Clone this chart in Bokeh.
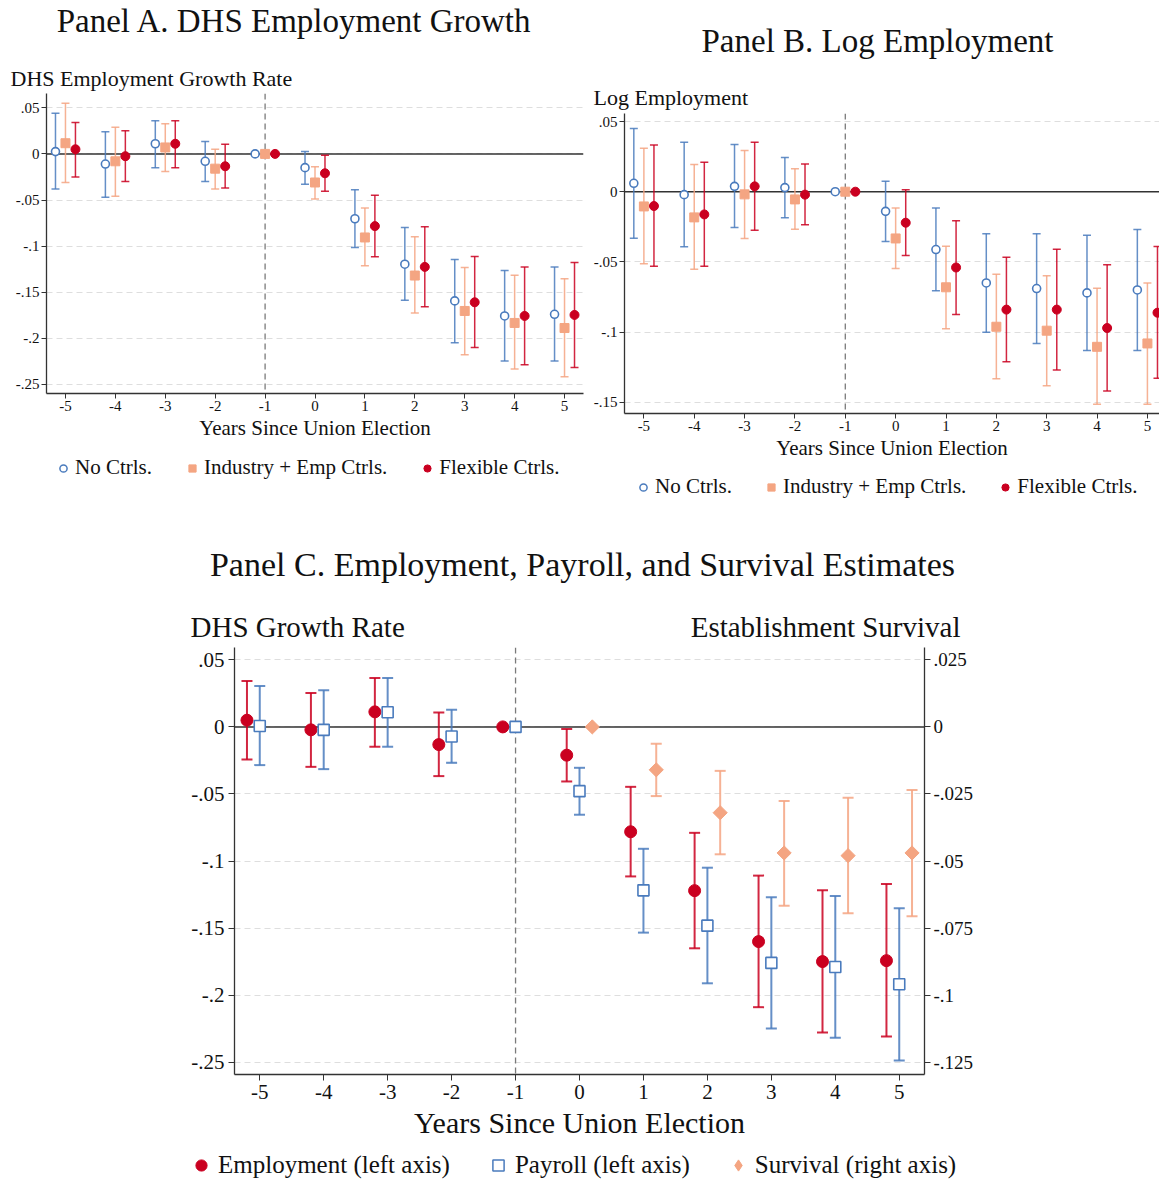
from bokeh.plotting import figure
from bokeh.models import (Range1d, LinearAxis, FixedTicker, Span, Whisker, TeeHead,
                          ColumnDataSource, Legend, LegendItem, Label, Spacer)
from bokeh.layouts import row, column
from bokeh.embed import file_html
from bokeh.resources import INLINE

FONT = "Liberation Serif"
BLUE = "#4a7bbd"
ORANGE = "#f4a582"
RED = "#ca0020"
GRID = "#dedede"
AXIS = "#333333"
TXT = "#111111"
NAN = float("nan")
DIAMOND_ANGLE = 0.7853981634  # square turned 45 degrees

# ---------------- data ----------------
years = [-5, -4, -3, -2, -1, 0, 1, 2, 3, 4, 5]
x_tick_labels = ["-5", "-4", "-3", "-2", "-1", "0", "1", "2", "3", "4", "5"]

# Panel A: DHS employment growth
a_nc = [0.0025, -0.011, 0.011, -0.008, 0.0, -0.0149, -0.0703, -0.1196, -0.1594, -0.1757, -0.1739]
a_nc_lo = [-0.038, -0.047, -0.015, -0.030, None, -0.033, -0.1014, -0.1587, -0.2047, -0.2246, -0.2246]
a_nc_hi = [0.044, 0.024, 0.036, 0.0134, None, 0.0025, -0.0388, -0.0797, -0.1145, -0.1264, -0.1225]
a_ind = [0.0116, -0.008, 0.007, -0.016, 0.0, -0.031, -0.0906, -0.1319, -0.1703, -0.1833, -0.1888]
a_ind_lo = [-0.031, -0.046, -0.019, -0.038, None, -0.049, -0.1214, -0.1725, -0.2178, -0.2333, -0.2417]
a_ind_hi = [0.055, 0.029, 0.0326, 0.005, None, -0.0138, -0.0587, -0.0899, -0.1232, -0.1315, -0.1355]
a_flex = [0.005, -0.0025, 0.011, -0.0134, 0.0, -0.021, -0.0783, -0.1225, -0.1609, -0.1757, -0.1746]
a_flex_lo = [-0.025, -0.030, -0.015, -0.037, None, -0.0406, -0.1116, -0.1656, -0.2098, -0.2286, -0.2315]
a_flex_hi = [0.034, 0.025, 0.036, 0.0105, None, -0.0014, -0.0449, -0.079, -0.1112, -0.1225, -0.1178]
a_yticks = [0.05, 0.0, -0.05, -0.1, -0.15, -0.2, -0.25]
a_ytick_labels = [".05", "0", "-.05", "-.1", "-.15", "-.2", "-.25"]

# Panel B: log employment
b_nc = [0.006, -0.0021, 0.0038, 0.0029, 0.0, -0.014, -0.0412, -0.065, -0.069, -0.0721, -0.070]
b_nc_lo = [-0.0331, -0.0393, -0.0255, -0.0186, None, -0.0355, -0.0705, -0.1002, -0.1081, -0.1131, -0.1131]
b_nc_hi = [0.045, 0.0352, 0.0336, 0.0243, None, 0.0074, -0.0117, -0.030, -0.030, -0.031, -0.0269]
b_ind = [-0.0105, -0.0183, -0.0019, -0.0055, 0.0, -0.0333, -0.0681, -0.0962, -0.099, -0.1105, -0.1081]
b_ind_lo = [-0.0514, -0.0552, -0.0333, -0.0267, None, -0.0548, -0.0976, -0.1333, -0.1383, -0.1514, -0.1514]
b_ind_hi = [0.031, 0.0193, 0.0293, 0.0164, None, -0.0117, -0.0388, -0.0588, -0.0598, -0.0688, -0.065]
b_flex = [-0.0102, -0.0162, 0.0038, -0.0021, 0.0, -0.0221, -0.054, -0.084, -0.084, -0.0971, -0.0862]
b_flex_lo = [-0.0531, -0.0531, -0.0274, -0.0236, None, -0.0455, -0.0874, -0.1212, -0.1271, -0.1419, -0.1329]
b_flex_hi = [0.0333, 0.021, 0.0352, 0.0198, None, 0.0014, -0.0207, -0.0467, -0.041, -0.0521, -0.039]
b_yticks = [0.05, 0.0, -0.05, -0.1, -0.15]
b_ytick_labels = [".05", "0", "-.05", "-.1", "-.15"]

# Panel C: employment, payroll (left axis), survival (right axis)
c_emp = [0.005, -0.0022, 0.0112, -0.0132, 0.0, -0.0211, -0.0782, -0.1221, -0.1601, -0.175, -0.1743]
c_emp_lo = [-0.0243, -0.0298, -0.0149, -0.0367, None, -0.0407, -0.1115, -0.1651, -0.209, -0.2279, -0.2309]
c_emp_hi = [0.0343, 0.0253, 0.0365, 0.0107, None, -0.0015, -0.0447, -0.079, -0.1109, -0.1219, -0.1172]
c_pay = [0.0007, -0.0022, 0.0109, -0.0072, 0.0, -0.0479, -0.1219, -0.1482, -0.176, -0.179, -0.1919]
c_pay_lo = [-0.0285, -0.0315, -0.0149, -0.0268, None, -0.0655, -0.1534, -0.1912, -0.2249, -0.2318, -0.2487]
c_pay_hi = [0.0305, 0.0273, 0.0365, 0.0127, None, -0.0305, -0.0909, -0.105, -0.1271, -0.1261, -0.1353]
surv_years = [0, 1, 2, 3, 4, 5]
c_surv = [0.0, -0.016, -0.032, -0.047, -0.048, -0.047]
c_surv_lo = [None, -0.0258, -0.0475, -0.0667, -0.0695, -0.0706]
c_surv_hi = [None, -0.0063, -0.0164, -0.0276, -0.0264, -0.0235]
c_yticks = [0.05, 0.0, -0.05, -0.1, -0.15, -0.2, -0.25]
c_ytick_labels = [".05", "0", "-.05", "-.1", "-.15", "-.2", "-.25"]
c_ryticks = [0.025, 0.0, -0.025, -0.05, -0.075, -0.1, -0.125]
c_rytick_labels = [".025", "0", "-.025", "-.05", "-.075", "-.1", "-.125"]


def hide_title(p):
    if p.title is not None:
        p.title.visible = False


def base_fig(width, height, xr, yr, borders, tick_size, xtitle_size, yticks, ylabels, stand=2):
    p = figure(width=width, height=height, x_range=Range1d(*xr), y_range=Range1d(*yr),
               output_backend="svg", toolbar_location=None,
               min_border_left=borders[0], min_border_right=borders[1],
               min_border_top=borders[2], min_border_bottom=borders[3])
    hide_title(p)
    p.outline_line_color = None
    p.background_fill_color = "white"
    p.border_fill_color = "white"
    p.xgrid.visible = False
    p.ygrid.ticker = FixedTicker(ticks=yticks)
    p.ygrid.grid_line_color = GRID
    p.ygrid.grid_line_dash = "6 4"
    p.ygrid.grid_line_width = 1.2
    p.xaxis.ticker = FixedTicker(ticks=years)
    p.xaxis.major_label_overrides = dict(zip(years, x_tick_labels))
    p.yaxis.ticker = FixedTicker(ticks=yticks)
    p.yaxis.major_label_overrides = dict(zip(yticks, ylabels))
    for ax in list(p.xaxis) + list(p.yaxis):
        ax.axis_line_color = AXIS
        ax.axis_line_width = 1.3
        ax.major_tick_line_color = AXIS
        ax.major_tick_out = 5
        ax.major_tick_in = 0
        ax.minor_tick_line_color = None
        ax.major_label_text_font = FONT
        ax.major_label_text_font_size = tick_size
        ax.major_label_text_color = TXT
        ax.major_label_standoff = stand
    p.xaxis.axis_label = "Years Since Union Election"
    p.xaxis.axis_label_text_font = FONT
    p.xaxis.axis_label_text_font_size = xtitle_size
    p.xaxis.axis_label_text_font_style = "normal"
    p.xaxis.axis_label_text_color = TXT
    p.xaxis.axis_label_standoff = stand
    p.add_layout(Span(location=0, dimension="width", line_color="#333333",
                      line_width=1.5, level="underlay"))
    p.add_layout(Span(location=-1, dimension="height", line_color="#7a7a7a",
                      line_width=1.3, line_dash="6 4", level="underlay"))
    return p


def add_series(p, xs, pts, lo, hi, color, marker, size, hollow, cap, lw,
               y_range_name="default", angle=0.0):
    src = ColumnDataSource(dict(x=xs, y=pts))
    wx = [x for x, l in zip(xs, lo) if l is not None]
    wl = [l for l in lo if l is not None]
    wh = [h for h, l in zip(hi, lo) if l is not None]
    wsrc = ColumnDataSource(dict(x=wx, lo=wl, hi=wh))
    w = Whisker(base="x", lower="lo", upper="hi", source=wsrc, dimension="height",
                line_color=color, line_width=lw, line_alpha=0.85, y_range_name=y_range_name,
                upper_head=TeeHead(size=cap, line_color=color, line_width=lw, line_alpha=0.85),
                lower_head=TeeHead(size=cap, line_color=color, line_width=lw, line_alpha=0.85))
    p.add_layout(w)
    if hollow:
        r = p.scatter("x", "y", source=src, marker=marker, size=size, fill_color="white",
                      line_color=color, line_width=1.6, y_range_name=y_range_name, angle=angle)
    else:
        r = p.scatter("x", "y", source=src, marker=marker, size=size, fill_color=color,
                      line_color=color, line_width=1, y_range_name=y_range_name, angle=angle)
    return r


def shift(vals, d):
    return [v + d for v in vals]


def strip(width, height):
    s = figure(width=width, height=height, x_range=Range1d(0, width), y_range=Range1d(0, height),
               x_axis_type=None, y_axis_type=None, output_backend="svg", toolbar_location=None,
               min_border=0)
    hide_title(s)
    s.outline_line_color = None
    s.background_fill_color = "white"
    s.border_fill_color = "white"
    return s


def add_text(s, x, y, text, size, align="left"):
    s.add_layout(Label(x=x, y=y, text=text, text_font=FONT, text_font_size=size,
                       text_color=TXT, text_align=align, text_baseline="middle"))


def legend_strip(width, height, entries, size, spacing, gw, gh, loc):
    s = strip(width, height)
    items = []
    for label, marker, color, hollow in entries:
        if hollow:
            r = s.scatter(x=[NAN], y=[NAN], marker=marker, fill_color="white", line_color=color,
                          line_width=1.5)
        else:
            r = s.scatter(x=[NAN], y=[NAN], marker=marker, fill_color=color, line_color=color)
        items.append(LegendItem(label=label, renderers=[r]))
    lg = Legend(items=items, orientation="horizontal", location=loc,
                border_line_color=None, background_fill_alpha=0,
                label_text_font=FONT, label_text_font_size=size, label_text_color=TXT,
                spacing=spacing, glyph_width=gw, glyph_height=gh,
                label_standoff=3, padding=0, margin=0)
    s.add_layout(lg)
    return s


def box(*children):
    # wrap every element in its own column so that frames are not aligned
    return column(*[column(c) for c in children])


# ---------------- Panel A ----------------
a_xr = (-5.38, 5.38)
a_yr = (-0.2598, 0.0655)
pA = base_fig(590, 356, a_xr, a_yr, (46, 7, 0, 56), "15px", "21px", a_yticks, a_ytick_labels)
add_series(pA, shift(years, -0.2), a_nc, a_nc_lo, a_nc_hi, BLUE, "circle", 8, True, 8, 1.5)
add_series(pA, years, a_ind, a_ind_lo, a_ind_hi, ORANGE, "square", 9, False, 8, 1.5)
add_series(pA, shift(years, 0.2), a_flex, a_flex_lo, a_flex_hi, RED, "circle", 9, False, 8, 1.5)
tA = strip(590, 93)
add_text(tA, 294, 73, "Panel A. DHS Employment Growth", "33px", "center")
add_text(tA, 10, 15, "DHS Employment Growth Rate", "22px")
lA = legend_strip(590, 76, [("No Ctrls.", "circle", BLUE, True),
                            ("Industry + Emp Ctrls.", "square", ORANGE, False),
                            ("Flexible Ctrls.", "circle", RED, False)],
                  "21px", 31, 18, 18, (54, 45))

# ---------------- Panel B ----------------
b_xr = (-5.385, 5.24)
b_yr = (-0.158, 0.0557)
pB = base_fig(569, 356, b_xr, b_yr, (33, 0, 0, 56), "15px", "21px", b_yticks, b_ytick_labels)
add_series(pB, shift(years, -0.2), b_nc, b_nc_lo, b_nc_hi, BLUE, "circle", 8, True, 8, 1.5)
add_series(pB, years, b_ind, b_ind_lo, b_ind_hi, ORANGE, "square", 9, False, 8, 1.5)
add_series(pB, shift(years, 0.2), b_flex, b_flex_lo, b_flex_hi, RED, "circle", 9, False, 8, 1.5)
tB = strip(569, 113)
add_text(tB, 287, 73, "Panel B. Log Employment", "33px", "center")
add_text(tB, 3, 16, "Log Employment", "22px")
lB = legend_strip(569, 56, [("No Ctrls.", "circle", BLUE, True),
                            ("Industry + Emp Ctrls.", "square", ORANGE, False),
                            ("Flexible Ctrls.", "circle", RED, False)],
                  "21px", 30, 18, 18, (44, 26))

# ---------------- Panel C ----------------
c_xr = (-5.395, 5.395)
c_yr = (-0.2592, 0.0592)
pC = base_fig(805, 497, c_xr, c_yr, (54, 61, 0, 70), "21px", "30px", c_yticks, c_ytick_labels, 4)
pC.extra_y_ranges = {"surv": Range1d(c_yr[0] / 2, c_yr[1] / 2)}
rax = LinearAxis(y_range_name="surv", ticker=FixedTicker(ticks=c_ryticks),
                 major_label_overrides=dict(zip(c_ryticks, c_rytick_labels)),
                 axis_line_color=AXIS, axis_line_width=1.3, major_tick_line_color=AXIS,
                 major_tick_out=6, major_tick_in=0, minor_tick_line_color=None,
                 major_label_text_font=FONT, major_label_text_font_size="19px",
                 major_label_text_color=TXT, major_label_standoff=3)
pC.add_layout(rax, "right")
for ax in list(pC.xaxis) + list(pC.yaxis)[:1]:
    ax.major_tick_out = 6
add_series(pC, shift(years, -0.2), c_emp, c_emp_lo, c_emp_hi, RED, "circle", 12, False, 11, 2)
add_series(pC, years, c_pay, c_pay_lo, c_pay_hi, BLUE, "square", 11, True, 11, 2)
add_series(pC, shift(surv_years, 0.2), c_surv, c_surv_lo, c_surv_hi, ORANGE, "square", 10,
           False, 11, 2, y_range_name="surv", angle=DIAMOND_ANGLE)
tC = strip(805, 122)
add_text(tC, 402, 83, "Panel C. Employment, Payroll, and Survival Estimates", "34px", "center")
add_text(tC, 10, 21, "DHS Growth Rate", "29px")
add_text(tC, 780, 21, "Establishment Survival", "29px", "right")
lC = legend_strip(805, 38, [("Employment (left axis)", "circle", RED, False),
                            ("Payroll (left axis)", "square", BLUE, True),
                            ("Survival (right axis)", "diamond", ORANGE, False)],
                  "25px", 34, 28, 28, (7, 3))

layout = column(row(box(tA, pA, lA), box(tB, pB, lB)),
                row(Spacer(width=180, height=10), box(tC, pC, lC)))
open("out.html", "w").write(file_html(layout, INLINE))
